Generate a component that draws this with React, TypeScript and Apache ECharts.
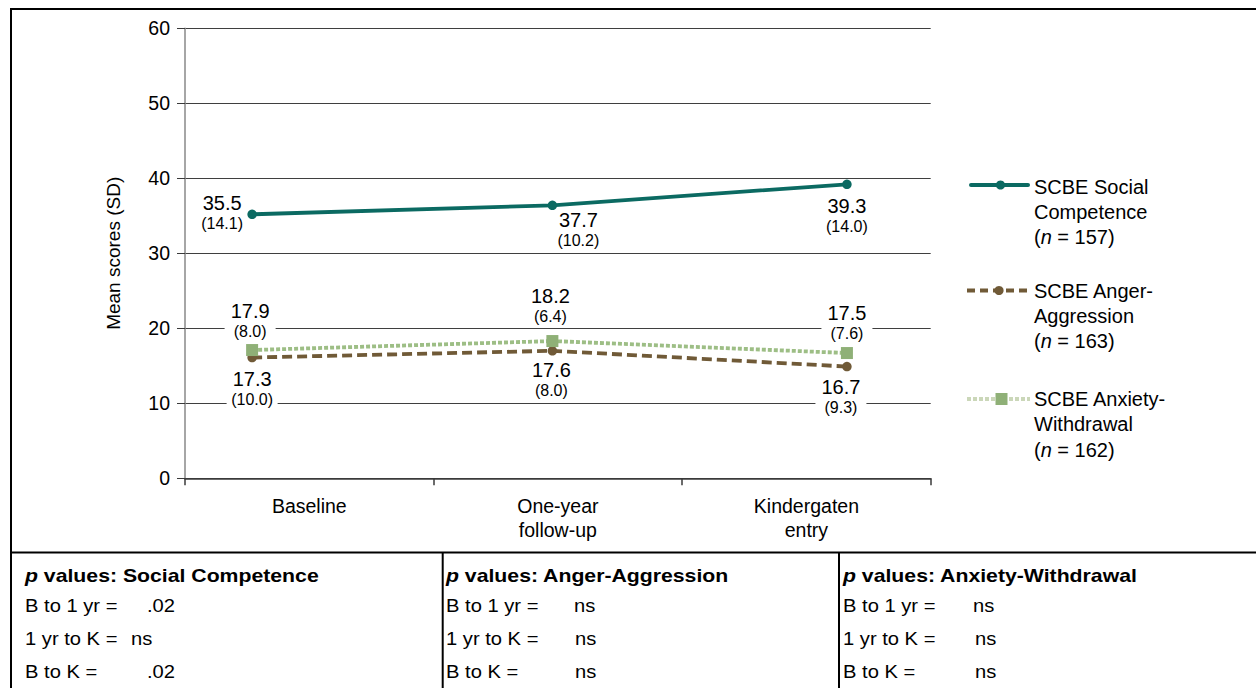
import React, { useEffect, useRef } from 'react';
import * as echarts from 'echarts';

// ---------- data ----------
const categories = ['Baseline', 'One-year\nfollow-up', 'Kindergaten\nentry'];
// horizontal position of each measurement inside the category bands (as drawn)
const timePoint = [0.27, 1.478, 2.663];

const socialValues = [35.2, 36.4, 39.2];
const angerValues = [16.1, 17.0, 14.9];
const anxietyValues = [17.1, 18.3, 16.7];

const socialMean = ['35.5', '37.7', '39.3'];
const socialSD = ['(14.1)', '(10.2)', '(14.0)'];
const angerMean = ['17.3', '17.6', '16.7'];
const angerSD = ['(10.0)', '(8.0)', '(9.3)'];
const anxietyMean = ['17.9', '18.2', '17.5'];
const anxietySD = ['(8.0)', '(6.4)', '(7.6)'];

const yMin = 0;
const yMax = 60;
const yStep = 10;

const seriesNames = ['SCBE Social Competence', 'SCBE Anger-Aggression', 'SCBE Anxiety-Withdrawal'];
const legendLines = [
  ['SCBE Social', 'Competence'],
  ['SCBE Anger-', 'Aggression'],
  ['SCBE Anxiety-', 'Withdrawal'],
];
const sampleSizes = [157, 163, 162];

const pHeaders = ['Social Competence', 'Anger-Aggression', 'Anxiety-Withdrawal'];
const pRowLabels = ['B to 1 yr =', '1 yr to K =', 'B to K ='];
const pSocial = ['.02', 'ns', '.02'];
const pAnger = ['ns', 'ns', 'ns'];
const pAnxiety = ['ns', 'ns', 'ns'];

// ---------- styles ----------
const FONT = 'Liberation Sans, Arial, Helvetica, sans-serif';
const C_SOCIAL = '#0b6a62';
const C_ANGER = '#705a37';
const C_ANX_LINE = '#9dbe85';
const C_ANX_MARK = '#8fb077';
const C_ANX_LEGEND_LINE = '#cbd7b9';

const socialOffsets = [[-30, -1], [26, 25], [0, 32]];
const angerOffsets = [[0, 31.5], [-1, 29], [-6, 30]];
const anxietyOffsets = [[-2, -29], [-2, -35], [0, -30]];

const labelRich = {
  a: { fontSize: 20, lineHeight: 21, fontFamily: FONT, color: '#000', align: 'center' },
  b: { fontSize: 16, lineHeight: 20, fontFamily: FONT, color: '#000', align: 'center' },
};

function makeSeries(
  name: string,
  values: number[],
  means: string[],
  sds: string[],
  offsets: number[][],
  color: string,
  markColor: string,
  lineType: any,
  symbol: string,
  symbolSize: number,
  bg: string
) {
  return {
    type: 'line',
    name,
    xAxisIndex: 1,
    yAxisIndex: 0,
    symbol,
    symbolSize,
    showSymbol: true,
    lineStyle: { color, width: 3.8, type: lineType, cap: 'butt' },
    itemStyle: { color: markColor, borderWidth: 0 },
    data: values.map((v, i) => ({
      value: [timePoint[i], v],
      label: { offset: offsets[i] },
    })),
    label: {
      show: true,
      position: 'inside',
      align: 'center',
      verticalAlign: 'middle',
      width: 45,
      padding: [1, 3],
      backgroundColor: bg,
      formatter: (p: any) => `{a|${means[p.dataIndex]}}\n{b|${sds[p.dataIndex]}}`,
      rich: labelRich,
    },
    emphasis: { disabled: true },
  };
}

function buildGraphic() {
  const els: any[] = [];
  // outer frame
  els.push({
    type: 'rect',
    shape: { x: 11, y: 9, width: 1265, height: 700 },
    style: { fill: 'none', stroke: '#000', lineWidth: 2 },
    silent: true,
  });
  // table top line and dividers
  els.push({
    type: 'line',
    shape: { x1: 11, y1: 552.5, x2: 1256, y2: 552.5 },
    style: { stroke: '#000', lineWidth: 2 },
  });
  [442.7, 839].forEach((x) =>
    els.push({
      type: 'line',
      shape: { x1: x, y1: 552, x2: x, y2: 690 },
      style: { stroke: '#000', lineWidth: 2 },
    })
  );

  // legend
  const legendIconY = [185, 290.5, 399];
  const legendTextTop = [174, 278, 386.5];
  els.push({
    type: 'line',
    shape: { x1: 971, y1: legendIconY[0], x2: 1028, y2: legendIconY[0] },
    style: { stroke: C_SOCIAL, lineWidth: 4, lineCap: 'round' },
  });
  els.push({
    type: 'circle',
    shape: { cx: 1000.5, cy: legendIconY[0], r: 4.6 },
    style: { fill: C_SOCIAL },
  });
  els.push({
    type: 'line',
    shape: { x1: 967, y1: legendIconY[1], x2: 1028, y2: legendIconY[1] },
    style: { stroke: C_ANGER, lineWidth: 4, lineDash: [8, 5] },
  });
  els.push({
    type: 'circle',
    shape: { cx: 999, cy: legendIconY[1], r: 4.6 },
    style: { fill: C_ANGER },
  });
  els.push({
    type: 'line',
    shape: { x1: 967, y1: legendIconY[2], x2: 1030, y2: legendIconY[2] },
    style: { stroke: C_ANX_LEGEND_LINE, lineWidth: 4, lineDash: [4, 2] },
  });
  els.push({
    type: 'rect',
    shape: { x: 995.5, y: legendIconY[2] - 6, width: 12, height: 12 },
    style: { fill: C_ANX_MARK },
  });
  legendLines.forEach((lines, i) => {
    els.push({
      type: 'text',
      x: 1034,
      y: legendTextTop[i],
      style: {
        text: `${lines[0]}\n${lines[1]}\n({i|n} = ${sampleSizes[i]})`,
        fontSize: 20,
        fontFamily: FONT,
        fill: '#000',
        lineHeight: 25.3,
        align: 'left',
        verticalAlign: 'top',
        rich: {
          i: { fontSize: 20, fontFamily: FONT, fontStyle: 'italic', lineHeight: 25.3, fill: '#000' },
        },
      },
    });
  });

  // p-value table
  const colX = [25, 446, 843];
  const headerY = 576;
  const rowY = [605.5, 638.5, 671.5];
  const valueX = [
    [147, 131, 147],
    [574, 575, 575],
    [973, 975, 975],
  ];
  const colValues = [pSocial, pAnger, pAnxiety];
  const SX_HEAD = 1.18;
  const SX_ROW = 1.12;
  const FS = 18;
  pHeaders.forEach((h, c) => {
    els.push({
      type: 'text',
      x: colX[c],
      y: headerY,
      scaleX: SX_HEAD,
      style: {
        text: `{pi|p}{hb| values: ${h}}`,
        fontSize: FS,
        fontFamily: FONT,
        fontWeight: 'bold',
        fill: '#000',
        align: 'left',
        verticalAlign: 'middle',
        rich: {
          pi: { fontSize: FS, fontFamily: FONT, fontWeight: 'bold', fontStyle: 'italic', fill: '#000' },
          hb: { fontSize: FS, fontFamily: FONT, fontWeight: 'bold', fill: '#000' },
        },
      },
    });
    pRowLabels.forEach((r, k) => {
      els.push({
        type: 'text',
        x: colX[c],
        y: rowY[k],
        scaleX: SX_ROW,
        style: {
          text: r,
          fontSize: FS,
          fontFamily: FONT,
          fill: '#000',
          align: 'left',
          verticalAlign: 'middle',
        },
      });
      els.push({
        type: 'text',
        x: valueX[c][k],
        y: rowY[k],
        scaleX: SX_ROW,
        style: {
          text: colValues[c][k],
          fontSize: FS,
          fontFamily: FONT,
          fill: '#000',
          align: 'left',
          verticalAlign: 'middle',
        },
      });
    });
  });
  return els;
}

export default function App() {
  const ref = useRef<HTMLDivElement>(null);
  useEffect(() => {
    if (!ref.current) return;
    const chart = echarts.init(ref.current, undefined, { renderer: 'svg' });
    const option: any = {
      animation: false,
      backgroundColor: '#fff',
      textStyle: { fontFamily: FONT },
      grid: { left: 185, right: 325.3, top: 28.3, bottom: 209.7, containLabel: false },
      xAxis: [
        {
          type: 'category',
          data: categories,
          boundaryGap: true,
          axisLine: { show: true, lineStyle: { color: '#3a3a3a', width: 1.5 } },
          axisTick: { show: true, length: 7, alignWithLabel: false, interval: 0, lineStyle: { color: '#3a3a3a', width: 1.5 } },
          axisLabel: { interval: 0, fontSize: 19.5, lineHeight: 24, margin: 16, color: '#000', fontFamily: FONT },
          splitLine: { show: false },
        },
        {
          type: 'value',
          min: 0,
          max: 3,
          show: false,
        },
      ],
      yAxis: {
        type: 'value',
        min: yMin,
        max: yMax,
        interval: yStep,
        name: 'Mean scores (SD)',
        nameLocation: 'middle',
        nameGap: 62,
        nameTextStyle: { fontSize: 19, color: '#000', fontFamily: FONT },
        axisLine: { show: true, lineStyle: { color: '#888', width: 1.5 } },
        axisTick: { show: true, length: 8, lineStyle: { color: '#3a3a3a', width: 1 } },
        axisLabel: { fontSize: 19.5, color: '#000', margin: 15, fontFamily: FONT },
        splitLine: { show: true, lineStyle: { color: '#3f3f3f', width: 1 } },
      },
      series: [
        makeSeries(seriesNames[0], socialValues, socialMean, socialSD, socialOffsets, C_SOCIAL, C_SOCIAL, 'solid', 'circle', 9.5, 'transparent'),
        makeSeries(seriesNames[1], angerValues, angerMean, angerSD, angerOffsets, C_ANGER, C_ANGER, [10, 5], 'circle', 9.5, '#fff'),
        makeSeries(seriesNames[2], anxietyValues, anxietyMean, anxietySD, anxietyOffsets, C_ANX_LINE, C_ANX_MARK, [4, 2], 'rect', 12, '#fff'),
      ],
      graphic: buildGraphic(),
    };
    chart.setOption(option);
    return () => chart.dispose();
  }, []);
  return (
    <div
      ref={ref}
      style={{ position: 'fixed', left: 0, top: 0, width: 1256, height: 688, background: '#fff' }}
    />
  );
}
